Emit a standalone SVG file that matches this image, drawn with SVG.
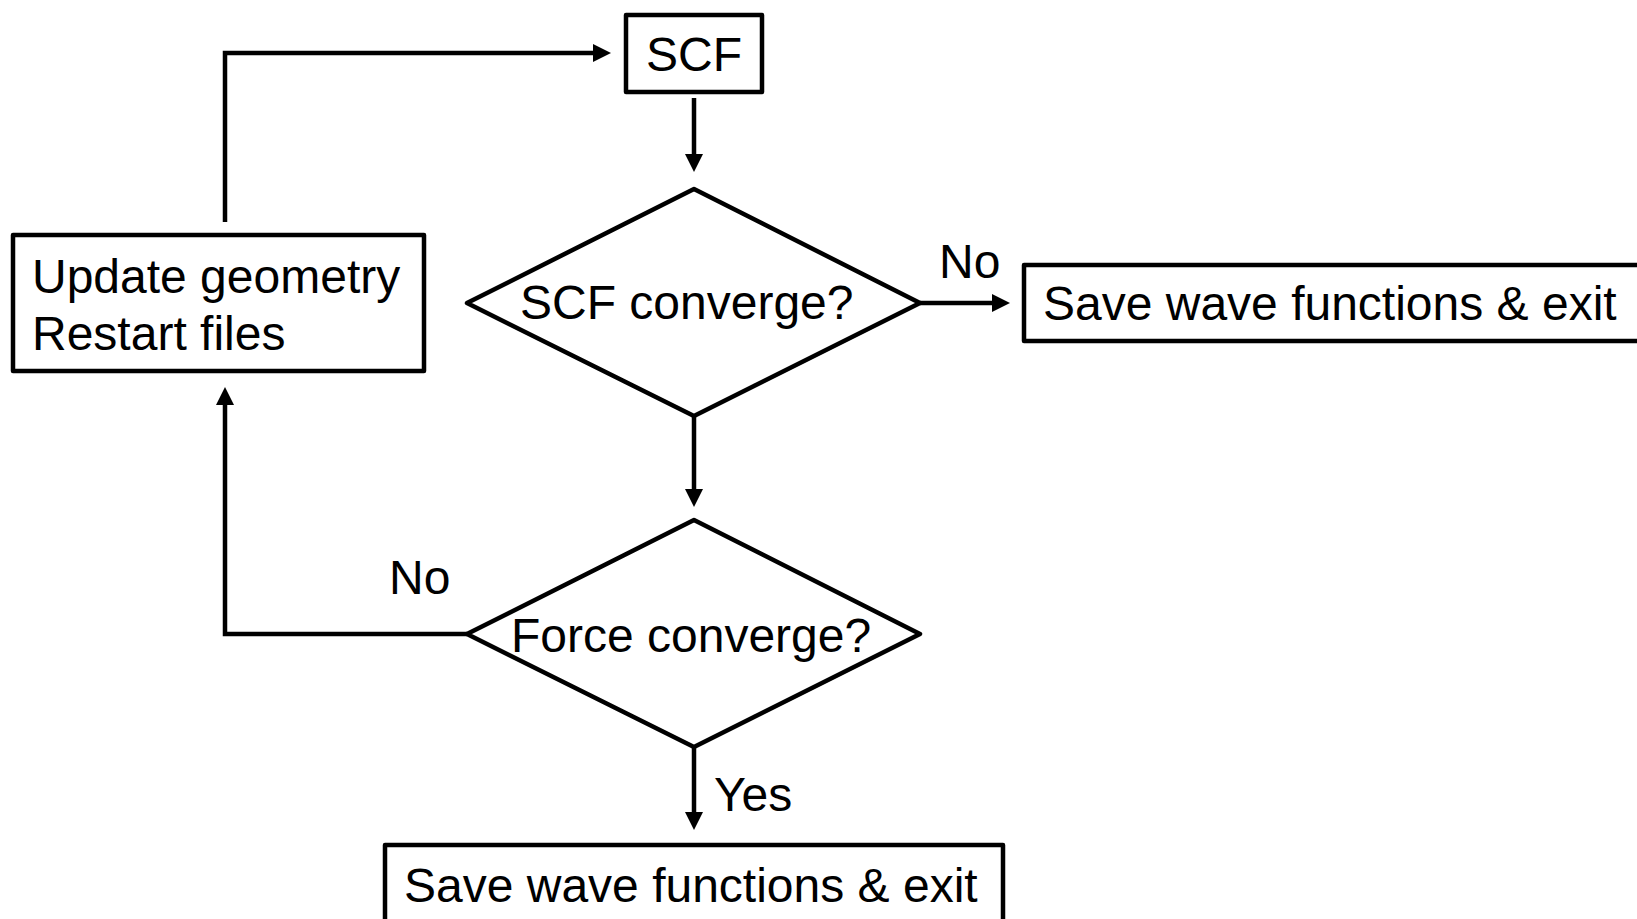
<svg xmlns="http://www.w3.org/2000/svg" width="1637" height="919" viewBox="0 0 1637 919">
  <style>
    .shape { fill: #ffffff; stroke: #000000; stroke-width: 4.5; stroke-linejoin: round; }
    .conn { fill: none; stroke: #000000; stroke-width: 4.5; marker-end: url(#arrow); }
    text { font-family: "Liberation Sans", Arial, sans-serif; font-size: 48px; fill: #000000; }
  </style>
  <defs>
    <marker id="arrow" markerUnits="userSpaceOnUse" markerWidth="18" markerHeight="18" refX="8" refY="9" orient="auto">
      <path d="M0,0 L18,9 L0,18 z" fill="#000000"/>
    </marker>
  </defs>
  <rect width="1637" height="919" fill="#ffffff"/>

  <g id="connectors">
    <path class="conn" d="M694,98 V162"/>
    <path class="conn" d="M920,303 H1000"/>
    <path class="conn" d="M694,415 V497"/>
    <path class="conn" d="M467,634 H225 V397"/>
    <path class="conn" d="M225,222 V53 H601"/>
    <path class="conn" d="M694,748 V820"/>
  </g>

  <g id="scf">
    <rect class="shape" x="626" y="15" width="136" height="77"/>
    <text x="694" y="71" text-anchor="middle">SCF</text>
  </g>

  <g id="scf-converge">
    <polygon class="shape" points="694,189 920,303 694,416 467,303"/>
    <text x="520" y="319">SCF converge?</text>
  </g>

  <g id="save-exit-right">
    <rect class="shape" x="1024" y="265" width="630" height="76"/>
    <text x="1043" y="320">Save wave functions &amp; exit</text>
  </g>

  <g id="force-converge">
    <polygon class="shape" points="694,520 920,634 694,747 467,634"/>
    <text x="511" y="652">Force converge?</text>
  </g>

  <g id="update-geometry">
    <rect class="shape" x="13" y="235" width="411" height="136"/>
    <text x="32" y="293">Update geometry</text>
    <text x="32" y="350">Restart files</text>
  </g>

  <g id="save-exit-bottom">
    <rect class="shape" x="385" y="845" width="618" height="90"/>
    <text x="404" y="902">Save wave functions &amp; exit</text>
  </g>

  <g id="labels">
    <text x="939" y="278">No</text>
    <text x="389" y="594">No</text>
    <text x="714" y="811">Yes</text>
  </g>
</svg>
